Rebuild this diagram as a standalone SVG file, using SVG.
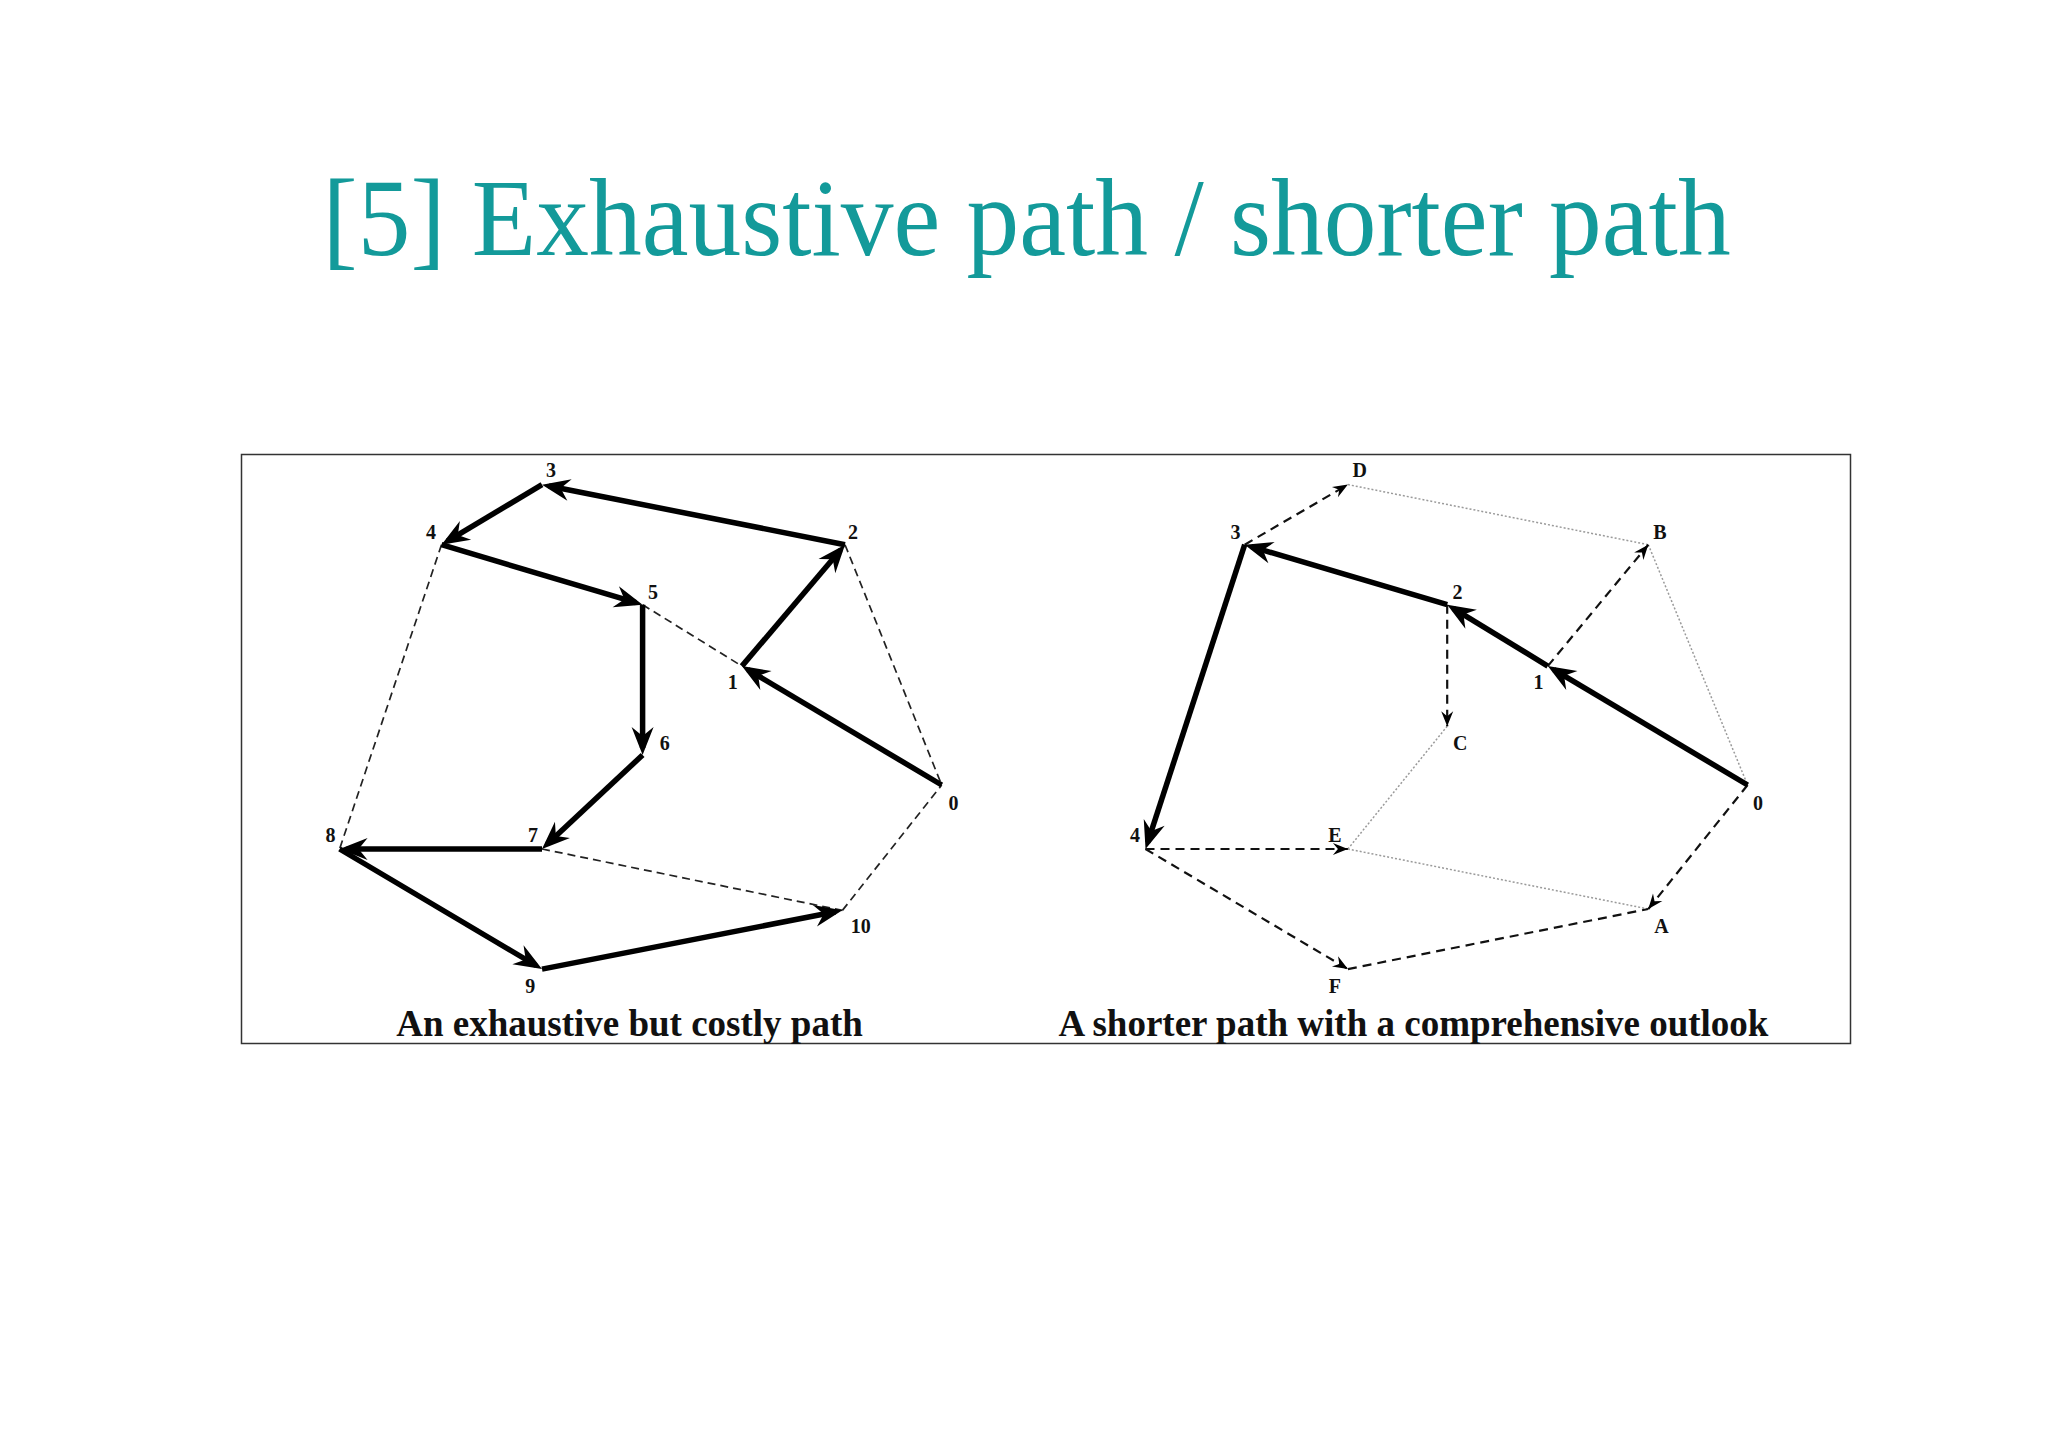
<svg xmlns="http://www.w3.org/2000/svg" width="2048" height="1447" viewBox="0 0 2048 1447">
<style>
.title{font-family:"Liberation Serif","Times New Roman",serif;font-size:110px;fill:#139a9a}
.cap{font-family:"Liberation Serif","Times New Roman",serif;font-size:37px;font-weight:bold;fill:#111;text-anchor:middle}
.lbl{font-family:"Liberation Serif","Times New Roman",serif;font-size:20px;font-weight:bold;fill:#111;text-anchor:middle}
.thick{stroke:#000;stroke-width:5.5;fill:none;marker-end:url(#big)}
.dl{stroke:#222;stroke-width:1.7;stroke-dasharray:8 5;fill:none}
.dr{stroke:#111;stroke-width:2.2;stroke-dasharray:9 6;fill:none}
.dra{stroke:#111;stroke-width:2.2;stroke-dasharray:9 6;fill:none;marker-end:url(#small)}
.dot{stroke:#9a9a9a;stroke-width:1.5;stroke-dasharray:2 2;fill:none}
</style>
<defs>
<marker id="big" markerUnits="userSpaceOnUse" viewBox="-30 -13 32 26" markerWidth="32" markerHeight="26" refX="-7" refY="0" orient="auto">
<path d="M0,0 L-28,-11 L-19,0 L-28,11 Z" fill="#000"/>
</marker>
<marker id="small" markerUnits="userSpaceOnUse" viewBox="-18 -8 20 16" markerWidth="20" markerHeight="16" refX="0" refY="0" orient="auto">
<path d="M0,0 L-15,-6 L-10,0 L-15,6 Z" fill="#000"/>
</marker>
</defs>
<rect width="2048" height="1447" fill="#fff"/>
<text class="title" x="322.6" y="255" textLength="1408" lengthAdjust="spacingAndGlyphs">[5] Exhaustive path / shorter path</text>
<rect x="241.5" y="454.5" width="1609" height="589" fill="none" stroke="#333" stroke-width="1.5"/>
<g id="connectors">
<g id="left-edges">
<line class="dl" x1="845" y1="544.7" x2="941.7" y2="785"/>
<line class="dl" x1="642.6" y1="604.7" x2="741.9" y2="666.1"/>
<line class="dl" x1="441.5" y1="544.7" x2="339.6" y2="849"/>
<line class="dl" x1="542" y1="849" x2="842.4" y2="910.4"/>
<line class="dl" x1="842.4" y1="910.4" x2="941.7" y2="785"/>
<line class="thick" x1="941.7" y1="785" x2="747.9" y2="669.7"/>
<line class="thick" x1="741.9" y1="666.1" x2="840.5" y2="550"/>
<line class="thick" x1="845" y1="544.7" x2="548.9" y2="486"/>
<line class="thick" x1="542" y1="484.6" x2="447.5" y2="541.1"/>
<line class="thick" x1="441.5" y1="544.7" x2="635.9" y2="602.7"/>
<line class="thick" x1="642.6" y1="604.7" x2="642.6" y2="748"/>
<line class="thick" x1="642.6" y1="755" x2="547.1" y2="844.2"/>
<line class="thick" x1="542" y1="849" x2="346.6" y2="849"/>
<line class="thick" x1="339.6" y1="849" x2="536" y2="965.5"/>
<line class="thick" x1="542" y1="969.1" x2="835.5" y2="911.7"/>
</g>
<g id="right-edges">
<line class="dot" x1="1347.9" y1="484.6" x2="1648.3" y2="544.7"/>
<line class="dot" x1="1648.3" y1="544.7" x2="1747.6" y2="785"/>
<line class="dot" x1="1447.2" y1="726.2" x2="1347.9" y2="849"/>
<line class="dot" x1="1347.9" y1="849" x2="1648.3" y2="909"/>
<line class="dr" x1="1347.9" y1="969.1" x2="1648.3" y2="909"/>
<line class="dra" x1="1244.7" y1="544.7" x2="1347.9" y2="484.6"/>
<line class="dra" x1="1547.8" y1="666.1" x2="1648.3" y2="544.7"/>
<line class="dra" x1="1447.2" y1="604.7" x2="1447.2" y2="726.2"/>
<line class="dra" x1="1747.6" y1="785" x2="1648.3" y2="909"/>
<line class="dra" x1="1145.5" y1="849" x2="1347.9" y2="849"/>
<line class="dra" x1="1145.5" y1="849" x2="1347.9" y2="969.1"/>
<line class="thick" x1="1747.6" y1="785" x2="1553.8" y2="669.7"/>
<line class="thick" x1="1547.8" y1="666.1" x2="1453.2" y2="608.3"/>
<line class="thick" x1="1447.2" y1="604.7" x2="1251.4" y2="546.7"/>
<line class="thick" x1="1244.7" y1="544.7" x2="1147.7" y2="842.3"/>
</g>
</g>
<g id="left-n0"><text class="lbl" x="953.5" y="810">0</text></g>
<g id="left-n1"><text class="lbl" x="732.7" y="689">1</text></g>
<g id="left-n2"><text class="lbl" x="853" y="539">2</text></g>
<g id="left-n3"><text class="lbl" x="551" y="477">3</text></g>
<g id="left-n4"><text class="lbl" x="431" y="539">4</text></g>
<g id="left-n5"><text class="lbl" x="653" y="599">5</text></g>
<g id="left-n6"><text class="lbl" x="664.8" y="750">6</text></g>
<g id="left-n7"><text class="lbl" x="533" y="842">7</text></g>
<g id="left-n8"><text class="lbl" x="330.4" y="842">8</text></g>
<g id="left-n9"><text class="lbl" x="530.3" y="993">9</text></g>
<g id="left-n10"><text class="lbl" x="860.7" y="933">10</text></g>
<g id="right-n0"><text class="lbl" x="1758" y="810">0</text></g>
<g id="right-n1"><text class="lbl" x="1538.6" y="689">1</text></g>
<g id="right-n2"><text class="lbl" x="1457.6" y="599">2</text></g>
<g id="right-n3"><text class="lbl" x="1235.6" y="539">3</text></g>
<g id="right-n4"><text class="lbl" x="1135" y="842">4</text></g>
<g id="right-nA"><text class="lbl" x="1661.4" y="933">A</text></g>
<g id="right-nB"><text class="lbl" x="1660" y="539">B</text></g>
<g id="right-nC"><text class="lbl" x="1460.2" y="750">C</text></g>
<g id="right-nD"><text class="lbl" x="1359.7" y="477">D</text></g>
<g id="right-nE"><text class="lbl" x="1334.9" y="842">E</text></g>
<g id="right-nF"><text class="lbl" x="1334.9" y="993">F</text></g>
<text class="cap" x="629.5" y="1036">An exhaustive but costly path</text>
<text class="cap" x="1413.5" y="1036">A shorter path with a comprehensive outlook</text>
</svg>
